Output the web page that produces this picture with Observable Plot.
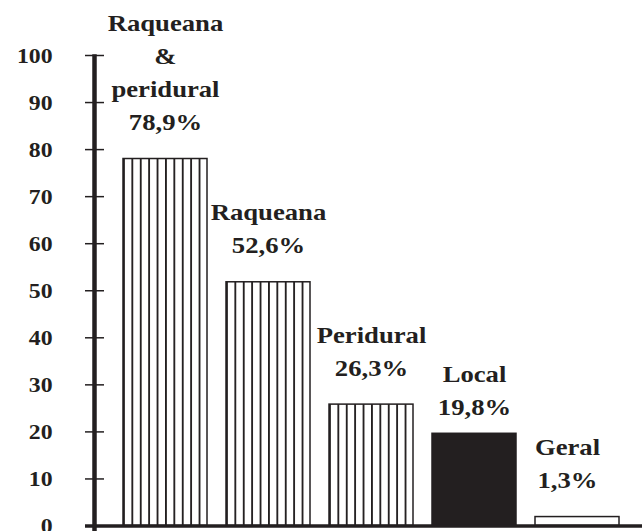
<!DOCTYPE html>
<html>
<head>
<meta charset="utf-8">
<script src="https://cdn.jsdelivr.net/npm/d3@7"></script>
<script src="https://cdn.jsdelivr.net/npm/@observablehq/plot@0.6"></script>
<style>
  html, body { margin: 0; padding: 0; background: white; overflow: hidden; }
</style>
</head>
<body>
<div id="chart"></div>
<script>
// ---- data ----
const categories = ["Raqueana & peridural", "Raqueana", "Peridural", "Local", "Geral"];
const labelNames = ["Raqueana\n&\nperidural", "Raqueana", "Peridural", "Local", "Geral"];
const percentLabels = ["78,9%", "52,6%", "26,3%", "19,8%", "1,3%"];
const barHeights = [78, 51.8, 25.8, 19.6, 1.9];
const fillKinds = ["striped", "striped", "striped", "solid", "empty"];
const yTicks = [0, 10, 20, 30, 40, 50, 60, 70, 80, 90, 100];

const data = categories.map((c, i) => ({
  cat: c, value: barHeights[i], kind: fillKinds[i],
  label: labelNames[i] + "\n" + percentLabels[i], i
}));

const ink = "#231f20";
const W = 642, H = 531;
const mLeft = 112, mTop = 55, mBottom = 5.5;
const tickSize = 19, axisShift = -8;
const labelOpts = { x: "cat", y: "value", text: "label", lineAnchor: "bottom", fontSize: 23, lineHeight: 1.435, fill: ink, className: "barlabel" };

const plot = Plot.plot({
  width: W, height: H,
  marginLeft: mLeft, marginRight: 12, marginTop: mTop, marginBottom: mBottom,
  style: { fontFamily: "'Liberation Serif', 'Times New Roman', serif", fontWeight: "bold", color: ink, background: "white" },
  x: { domain: categories, paddingInner: 0.18, paddingOuter: 0.09, axis: null },
  y: { domain: [0, 100], axis: null },
  color: { domain: ["striped", "solid", "empty"], range: ["url(#stripes)", ink, "white"] },
  marks: [
    Plot.barY(data, { x: "cat", y: "value", fill: "kind", stroke: ink, strokeWidth: 1.5 }),
    Plot.ruleY([0], { stroke: ink, strokeWidth: 3.5, insetLeft: -27, insetRight: -12 }),
    Plot.axisY({ ticks: yTicks, label: null, tickSize: tickSize, tickPadding: 33, dx: axisShift, fontSize: 22, strokeWidth: 1.5, fill: ink, stroke: ink, className: "ytick" }),
    Plot.text(data, { ...labelOpts, filter: d => d.i < 3, dy: -29 }),
    Plot.text(data, { ...labelOpts, filter: d => d.i === 3, dy: -19 }),
    Plot.text(data, { ...labelOpts, filter: d => d.i === 4, dy: -29, dx: -10 })
  ]
});

// stripe pattern for hatched bars
const svg = d3.select(plot);
const defs = svg.insert("defs", ":first-child");
const pat = defs.append("pattern").attr("id", "stripes")
  .attr("patternUnits", "objectBoundingBox")
  .attr("patternContentUnits", "objectBoundingBox")
  .attr("width", 0.1).attr("height", 1);
pat.append("rect").attr("width", 1).attr("height", 1).attr("fill", "white");
pat.append("rect").attr("width", 0.022).attr("height", 1).attr("fill", ink);

// vertical axis line
const yScale = plot.scale("y");
const axisX = mLeft + axisShift - tickSize / 2;
svg.append("line")
  .attr("x1", axisX).attr("x2", axisX)
  .attr("y1", yScale.apply(100) - 0.75).attr("y2", H)
  .attr("stroke", ink).attr("stroke-width", 4.5);

document.getElementById("chart").append(plot);

// widen text horizontally (the reference type is set wide)
function widen(sel, k, anchor) {
  sel.each(function () {
    const b = this.getBBox();
    const cx = anchor === "end" ? b.x + b.width : b.x + b.width / 2;
    const t = this.getAttribute("transform") || "";
    this.setAttribute("transform", `${t} translate(${cx},0) scale(${k},1) translate(${-cx},0)`);
  });
}
widen(svg.selectAll("g.barlabel text"), 1.16, "middle");
widen(svg.selectAll("g.ytick text"), 1.08, "end");
</script>
</body>
</html>
